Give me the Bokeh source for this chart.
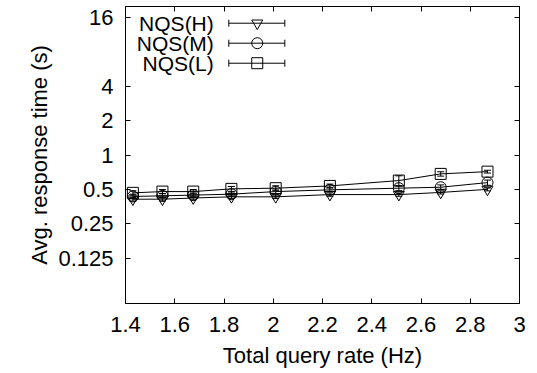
import math
from bokeh.plotting import figure
from bokeh.models import Range1d, FixedTicker, LinearAxis, LogAxis, Whisker, TeeHead, ColumnDataSource
from bokeh.core.properties import value
from bokeh.embed import file_html
from bokeh.resources import INLINE

# ---- data ----
rate_hz = [1.43, 1.55, 1.675, 1.83, 2.01, 2.23, 2.51, 2.68, 2.87]
nqs_h = [0.41, 0.41, 0.42, 0.43, 0.43, 0.45, 0.45, 0.47, 0.50]
nqs_m = [0.433, 0.439, 0.445, 0.454, 0.478, 0.495, 0.512, 0.522, 0.573]
nqs_l = [0.466, 0.478, 0.478, 0.505, 0.512, 0.536, 0.597, 0.683, 0.715]
err_h = [0.015, 0.015, 0.015, 0.015, 0.015, 0.015, 0.015, 0.015, 0.015]
err_m = [0.02, 0.02, 0.02, 0.02, 0.025, 0.02, 0.025, 0.025, 0.03]
err_l = [0.02, 0.02, 0.02, 0.025, 0.025, 0.02, 0.06, 0.03, 0.02]
series_names = ["NQS(H)", "NQS(M)", "NQS(L)"]
series_markers = ["inverted_triangle", "circle", "square"]

x_ticks = [1.4, 1.6, 1.8, 2.0, 2.2, 2.4, 2.6, 2.8, 3.0]
x_tick_labels = ["1.4", "1.6", "1.8", "2", "2.2", "2.4", "2.6", "2.8", "3"]
y_ticks = [0.125, 0.25, 0.5, 1, 2, 4, 16]
y_tick_labels = ["0.125", "0.25", "0.5", "1", "2", "4", "16"]

FONT = "Liberation Sans"
FS = "22px"
LEG_FS = "21px"

p = figure(width=537, height=373, output_backend="svg", toolbar_location=None,
           y_axis_type="log", x_range=Range1d(1.4, 3.0), y_range=Range1d(0.05, 20),
           min_border_left=125, min_border_right=18, min_border_top=6, min_border_bottom=70)
p.background_fill_color = "white"
p.border_fill_color = "white"
p.outline_line_color = "black"
p.outline_line_width = 1
p.xgrid.visible = False
p.ygrid.visible = False

def style_axis(ax, show_labels, ticks):
    ax.major_tick_in = 5
    ax.major_tick_out = 0
    ax.minor_tick_line_color = None
    ax.axis_line_color = "black"
    ax.major_tick_line_color = "black"
    ax.major_label_text_font = FONT
    ax.major_label_text_color = "black"
    ax.axis_label_text_font = FONT
    ax.axis_label_text_font_style = "normal"
    ax.axis_label_text_color = "black"
    ax.axis_label_text_font_size = FS
    if show_labels:
        ax.major_label_text_font_size = FS
    else:
        ax.major_label_overrides = {t: "" for t in ticks}
        ax.major_label_text_font_size = "0px"
        ax.major_label_standoff = 0

xa = p.xaxis[0]
xa.ticker = FixedTicker(ticks=x_ticks)
xa.major_label_overrides = {t: l for t, l in zip(x_ticks, x_tick_labels)}
xa.axis_label = "Total query rate (Hz)"
style_axis(xa, True, x_ticks)
xa.major_label_standoff = 13
xa.axis_label_standoff = 8

ya = p.yaxis[0]
ya.ticker = FixedTicker(ticks=y_ticks)
ya.major_label_overrides = {t: l for t, l in zip(y_ticks, y_tick_labels)}
ya.axis_label = "Avg. response time (s)"
style_axis(ya, True, y_ticks)
ya.major_label_standoff = 12
ya.axis_label_standoff = 3

top = LinearAxis(ticker=FixedTicker(ticks=x_ticks))
style_axis(top, False, x_ticks)
p.add_layout(top, "above")
right = LogAxis(ticker=FixedTicker(ticks=y_ticks))
style_axis(right, False, y_ticks)
p.add_layout(right, "right")

# ---- series ----
for name, mk, ys, es in zip(series_names, series_markers, [nqs_h, nqs_m, nqs_l], [err_h, err_m, err_l]):
    src = ColumnDataSource(dict(x=rate_hz, y=ys,
                                lo=[v - e for v, e in zip(ys, es)],
                                hi=[v + e for v, e in zip(ys, es)]))
    p.line("x", "y", source=src, line_color="black", line_width=1)
    p.add_layout(Whisker(source=src, base="x", lower="lo", upper="hi", dimension="height",
                         line_color="black", line_width=1,
                         lower_head=TeeHead(size=7, line_color="black", line_width=1),
                         upper_head=TeeHead(size=7, line_color="black", line_width=1)))
    p.scatter("x", "y", source=src, marker=mk, size=11, line_color="black",
              fill_alpha=0, line_width=1)

# ---- legend (gnuplot style: label, then sample) ----
leg_y = [14.28, 9.54, 6.37]
leg_text_x = 1.7585
leg_x0, leg_x1, leg_xm = 1.8195, 2.047, 1.935
p.text(x=[leg_text_x] * 3, y=leg_y, text=series_names, text_align="right",
       text_baseline="middle", text_font=value(FONT), text_font_size=LEG_FS, text_color="black")
p.segment(x0=[leg_x0] * 3, y0=leg_y, x1=[leg_x1] * 3, y1=leg_y, line_color="black", line_width=1)
p.scatter(x=[leg_x0] * 3 + [leg_x1] * 3, y=leg_y + leg_y, marker="dash", angle=math.pi / 2,
          size=7, line_color="black", line_width=1)
for mk, yy in zip(series_markers, leg_y):
    p.scatter(x=[leg_xm], y=[yy], marker=mk, size=11, line_color="black", fill_alpha=0, line_width=1)

open("out.html", "w").write(file_html(p, INLINE))
